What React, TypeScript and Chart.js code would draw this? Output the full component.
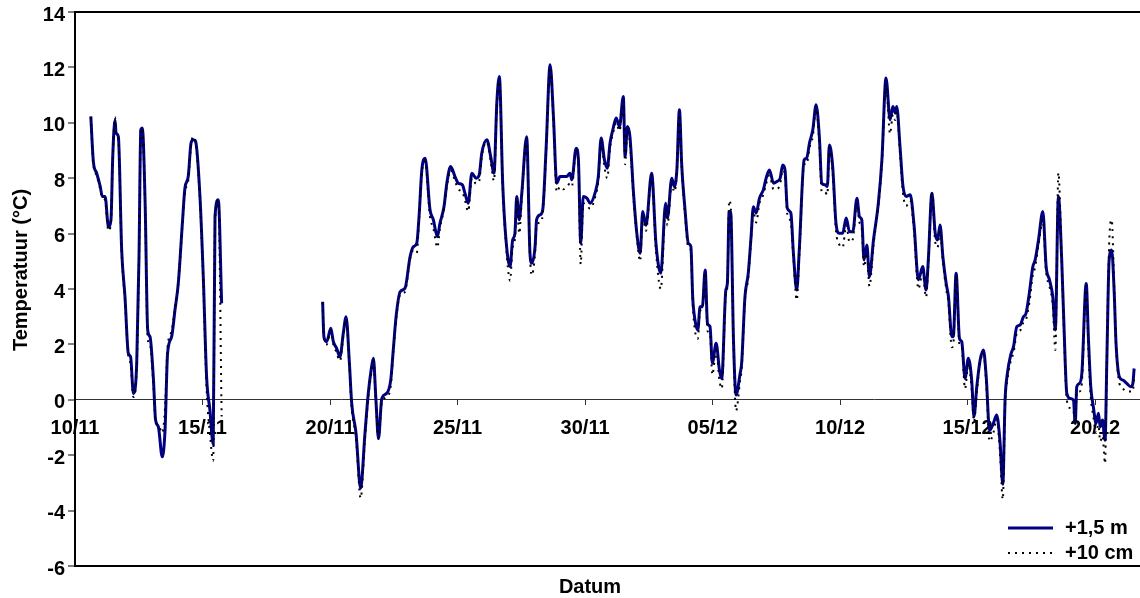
import React, { useEffect, useRef } from "react";
import { Chart, registerables } from "chart.js";

Chart.register(...registerables);

// Days since 10/11 (00:00); null values mark the data gap
const days = [
  0.62, 0.72, 0.85, 0.99, 1.07, 1.18, 1.31, 1.41, 1.48, 1.57, 1.61, 1.70, 1.83, 1.96, 2.09, 2.18, 2.29, 2.42, 2.51, 2.58,
  2.64, 2.75, 2.85, 2.94, 3.07, 3.16, 3.27, 3.42, 3.53, 3.63, 3.79, 3.92, 4.05, 4.21, 4.31, 4.44, 4.55, 4.64, 4.73, 4.90,
  5.03, 5.16, 5.29, 5.42, 5.49, 5.62, 5.75,
  7.5,
  9.71, 9.76, 9.87, 10.03, 10.13, 10.26, 10.39, 10.52, 10.63, 10.76, 10.85, 11.02, 11.2, 11.37, 11.5, 11.61, 11.7, 11.8, 11.9, 12.03,
  12.22, 12.38, 12.48, 12.59, 12.75, 12.94, 13.14, 13.27, 13.4, 13.49, 13.6, 13.73, 13.92, 14.05, 14.21, 14.31, 14.47, 14.58, 14.73, 14.9,
  15.03, 15.19, 15.29, 15.42, 15.56, 15.73, 15.85, 15.95, 16.15, 16.3, 16.43, 16.54, 16.64, 16.77, 16.9, 17.06, 17.16, 17.25, 17.32, 17.42,
  17.52, 17.71, 17.84, 17.91, 18.04, 18.1, 18.24, 18.34, 18.47, 18.63, 18.76, 18.89, 19.02, 19.15, 19.28, 19.41, 19.48, 19.65, 19.74, 19.83,
  19.93, 20.07, 20.2, 20.39, 20.52, 20.63, 20.76, 20.87, 20.98, 21.09, 21.22, 21.35, 21.5, 21.57, 21.66, 21.76, 21.9, 22.03, 22.16, 22.26,
  22.39, 22.61, 22.78, 22.97, 23.16, 23.23, 23.4, 23.5, 23.6, 23.7, 23.79, 23.92, 24.05, 24.15, 24.22, 24.31, 24.42, 24.51, 24.6, 24.71,
  24.8, 24.9, 24.99, 25.14, 25.27, 25.36, 25.52, 25.58, 25.65, 25.71, 25.82, 25.92, 26.08, 26.14, 26.27, 26.4, 26.51, 26.6, 26.71, 26.84,
  26.99, 27.1, 27.23, 27.39, 27.52, 27.65, 27.75, 27.84, 27.93, 28.07, 28.17, 28.3, 28.4, 28.59, 28.69, 28.8, 28.93, 29.06, 29.19, 29.28,
  29.41, 29.5, 29.58, 29.71, 29.84, 29.97, 30.1, 30.24, 30.37, 30.5, 30.66, 30.76, 30.85, 30.94, 31.05, 31.15, 31.31, 31.5, 31.64, 31.8,
  31.96, 32.07, 32.16, 32.22, 32.35, 32.46, 32.59, 32.75, 32.9, 33.07, 33.24, 33.37, 33.46, 33.6, 33.73, 33.82, 33.92, 34.03, 34.16, 34.25,
  34.38, 34.44, 34.55, 34.68, 34.77, 34.9, 35.03, 35.16, 35.25, 35.36, 35.49, 35.62, 35.73, 35.86, 36.01, 36.14, 36.27, 36.38, 36.47, 36.56,
  36.69, 36.8, 36.93, 37.06, 37.19, 37.29, 37.42, 37.56, 37.65, 37.78, 37.95, 38.08, 38.21, 38.34, 38.44, 38.56, 38.69, 38.78, 38.89, 39.02,
  39.15, 39.22, 39.28, 39.38, 39.48, 39.65, 39.74, 39.83, 39.93, 40.04, 40.13, 40.2, 40.29, 40.39, 40.46, 40.55, 40.65, 40.75, 40.82, 40.95,
  41.09, 41.24, 41.4, 41.48, 41.53,
];

// Temperature at +1,5 m (°C)
const temp150 = [
  10.23, 8.6, 8.18, 7.7, 7.34, 7.34, 6.25, 6.5, 8.78, 10.1, 9.63, 9.5, 5.41, 3.72, 1.68, 1.55, 0.23, 1.32, 5.17, 9.75,
  9.81, 7.1, 2.52, 2.28, 0.83, -0.73, -0.98, -2.06, -1.1, 1.68, 2.28, 3.24, 4.2, 6.37, 7.64, 8.06, 9.27, 9.39, 9.32, 7.34,
  4.45, 0.83, -0.37, -1.6, 6.61, 7.22, 3.48,
  null,
  3.54, 2.28, 2.1, 2.58, 2.1, 1.86, 1.55, 2.4, 3.0, 1.32, -0.13, -1.21, -3.2, -1.21, 0.23, 1.07, 1.5, -0.01, -1.4, 0.05,
  0.23, 0.71, 1.8, 3.0, 3.9, 4.03, 5.17, 5.53, 5.65, 6.61, 8.3, 8.72, 6.86, 6.5, 5.89, 6.37, 6.98, 7.82, 8.42, 8.06,
  7.82, 7.76, 7.46, 7.1, 8.18, 8.0, 8.12, 8.9, 9.39, 8.78, 8.18, 10.71, 11.67, 7.82, 5.77, 4.81, 5.77, 6.01, 7.34, 6.5,
  7.46, 9.5, 5.29, 4.93, 5.53, 6.5, 6.68, 6.86, 9.02, 12.1, 10.23, 7.82, 8.06, 8.06, 8.06, 8.18, 7.94, 9.08, 8.66, 5.65,
  7.34, 7.28, 7.1, 7.46, 8.06, 9.45, 8.66, 8.36, 9.27, 9.75, 10.17, 9.87, 10.95, 8.78, 9.87, 9.5, 7.46, 6.01, 5.29, 6.8,
  6.3, 8.18, 5.65, 4.57, 7.1, 6.56, 8.0, 7.7, 8.3, 10.47, 8.48, 6.86, 5.65, 5.53, 3.72, 2.88, 2.52, 3.36, 3.36, 4.69,
  2.76, 2.64, 1.32, 2.04, 1.07, 0.77, 3.96, 4.2, 6.8, 6.8, 2.16, 0.17, 0.95, 1.32, 3.72, 4.57, 5.89, 6.97, 6.74, 7.28,
  7.58, 8.0, 8.3, 7.82, 7.88, 8.0, 8.48, 8.3, 6.92, 6.74, 5.29, 3.96, 5.41, 8.66, 8.72, 9.27, 9.75, 10.65, 9.45, 7.82,
  7.76, 7.7, 9.2, 8.42, 6.37, 6.01, 6.01, 6.56, 6.07, 6.07, 7.28, 6.61, 6.5, 5.05, 5.59, 4.45, 5.77, 7.1, 8.66, 11.62,
  10.11, 10.59, 10.35, 10.59, 9.14, 7.76, 7.34, 7.4, 6.31, 4.33, 4.81, 3.96, 5.05, 7.46, 6.01, 5.77, 6.31, 5.17, 4.2, 3.72,
  2.28, 2.28, 4.57, 2.22, 2.1, 0.77, 1.5, 0.71, -0.61, 0.47, 1.43, 1.8, 0.83, -1.1, -0.85, -0.55, -1.5, -3.05, 0.0, 0.95,
  1.62, 1.92, 2.64, 2.7, 3.0, 3.12, 3.85, 4.81, 5.05, 5.77, 6.8, 4.81, 4.33, 3.72, 2.52, 7.34, 5.05, 2.64, 0.23, 0.05,
  -0.01, -0.85, 0.47, 0.59, 0.95, 4.2, 2.16, 0.47, -0.25, -0.85, -0.49, -0.98, -0.73, -1.46, 1.43, 5.05, 5.41, 3.85, 2.04, 0.83,
  0.71, 0.59, 0.47, 0.59, 1.13,
];

// Temperature at +10 cm (°C)
const temp10 = [
  10.2, 8.5, 8.1, 7.6, 7.3, 7.2, 6.1, 6.4, 8.7, 10.2, 9.6, 9.4, 5.3, 3.6, 1.6, 1.3, 0.1, 1.2, 5.1, 9.7,
  9.8, 7.0, 2.2, 2.0, 0.6, -0.8, -0.9, -1.2, -0.3, 1.9, 2.5, 3.3, 4.2, 6.3, 7.5, 7.9, 9.2, 9.5, 9.3, 7.2,
  4.3, 0.4, -1.2, -2.2, 6.4, 7.2, -0.6,
  null,
  3.5, 2.2, 2.0, 2.5, 2.0, 1.7, 1.4, 2.3, 2.9, 1.2, -0.3, -1.4, -3.55, -1.4, 0.1, 0.9, 1.4, -0.1, -1.4, -0.1,
  0.1, 0.5, 1.7, 2.9, 3.8, 3.9, 5.1, 5.4, 5.3, 6.5, 8.2, 8.6, 6.6, 6.2, 5.5, 6.2, 6.9, 7.7, 8.3, 7.9,
  7.6, 7.5, 7.2, 6.8, 8.0, 7.8, 7.9, 8.8, 9.3, 8.6, 7.9, 10.6, 11.5, 7.7, 5.6, 4.3, 5.5, 5.8, 7.2, 6.0,
  7.3, 9.4, 5.2, 4.5, 5.3, 6.3, 6.4, 6.7, 8.9, 12.0, 10.1, 7.5, 7.7, 7.6, 7.7, 7.8, 7.7, 9.0, 8.5, 4.9,
  7.1, 7.0, 6.9, 7.3, 7.9, 9.3, 8.4, 8.0, 9.1, 9.6, 10.0, 9.7, 10.8, 8.5, 9.7, 9.3, 7.3, 5.9, 5.0, 6.6,
  6.1, 8.1, 5.4, 4.0, 6.9, 6.3, 7.8, 7.5, 8.2, 10.3, 8.4, 6.7, 5.5, 5.4, 3.5, 2.5, 2.2, 3.2, 3.3, 4.6,
  2.5, 2.4, 0.9, 1.8, 0.7, 0.4, 3.8, 4.1, 7.2, 7.0, 2.0, -0.4, 0.7, 1.1, 3.6, 4.4, 5.8, 6.8, 6.4, 7.1,
  7.4, 7.8, 8.1, 7.6, 7.6, 7.8, 8.3, 8.1, 6.7, 6.4, 5.1, 3.6, 5.2, 8.5, 8.5, 9.1, 9.5, 10.5, 9.2, 7.5,
  7.5, 7.4, 9.1, 8.2, 6.1, 5.6, 5.5, 6.3, 5.7, 5.8, 7.1, 6.4, 6.2, 4.8, 5.3, 4.1, 5.6, 7.0, 8.5, 11.4,
  9.6, 10.3, 10.1, 10.4, 8.9, 7.5, 7.0, 7.2, 6.1, 4.0, 4.6, 3.7, 4.9, 7.5, 5.7, 5.5, 6.1, 5.0, 4.0, 3.5,
  1.9, 2.0, 4.5, 2.0, 1.9, 0.4, 1.3, 0.4, -0.8, 0.3, 1.3, 1.7, 0.6, -1.5, -1.2, -0.7, -1.9, -3.6, -0.2, 0.7,
  1.4, 1.7, 2.4, 2.5, 2.8, 2.9, 3.5, 4.5, 4.8, 5.6, 6.5, 4.6, 4.1, 3.4, 1.8, 8.2, 5.0, 2.4, 0.0, -0.3,
  -0.4, -0.9, 0.3, 0.3, 0.6, 4.1, 1.8, 0.1, -0.6, -1.2, -0.9, -1.5, -1.3, -2.3, 1.5, 5.6, 6.5, 4.0, 2.0, 0.6,
  0.4, 0.3, 0.3, 0.3, 0.9,
];

const seriesNames = ["+1,5 m", "+10 cm"];
const tickDays = [0, 5, 10, 15, 20, 25, 30, 35, 40];
const tickLabels = ["10/11", "15/11", "20/11", "25/11", "30/11", "05/12", "10/12", "15/12", "20/12"];
const yMin = -6;
const yMax = 14;
const yStep = 2;
const xMax = 41.76;
const xTitle = "Datum";
const yTitle = "Temperatuur (°C)";

const FONT_FAMILY = '"Liberation Sans", Arial, sans-serif';
const FONT_SIZE = 20;
const tickFont = { family: FONT_FAMILY, size: FONT_SIZE, weight: "bold" as const };

const overlayPlugin = {
  id: "overlay",
  afterDraw(chart: any) {
    const ctx = chart.ctx;
    const area = chart.chartArea;
    ctx.save();
    ctx.fillStyle = "#000";
    ctx.font = `bold ${FONT_SIZE}px ${FONT_FAMILY}`;
    ctx.textAlign = "center";
    ctx.textBaseline = "middle";
    // y title
    ctx.save();
    ctx.translate(21, (area.top + area.bottom) / 2 - 19);
    ctx.rotate(-Math.PI / 2);
    ctx.fillText(yTitle, 0, 0);
    ctx.restore();
    // x title
    ctx.fillText(xTitle, 590, area.bottom + 21);
    // legend
    const ds = chart.data.datasets;
    const order = [0, 1];
    order.forEach((i, row) => {
      const d = ds[i];
      const y = area.bottom - 38 + row * 25;
      ctx.save();
      ctx.strokeStyle = d.borderColor;
      ctx.lineWidth = d.borderWidth;
      ctx.setLineDash(d.borderDash || []);
      ctx.beginPath();
      ctx.moveTo(1008, y);
      ctx.lineTo(1053, y);
      ctx.stroke();
      ctx.restore();
      ctx.textAlign = "left";
      ctx.fillText(d.label, 1065, y);
    });
    ctx.restore();
  },
};

export default function App() {
  const ref = useRef<HTMLCanvasElement>(null);
  useEffect(() => {
    document.body.style.margin = "0";
    const mk = (vals: (number | null)[]) => days.map((d, i) => ({ x: d, y: vals[i] }));
    const chart = new Chart(ref.current as HTMLCanvasElement, {
      type: "line",
      data: {
        datasets: [
          {
            label: seriesNames[0],
            data: mk(temp150) as any,
            borderColor: "#000080",
            borderWidth: 3,
            pointRadius: 0,
            cubicInterpolationMode: "monotone",
            spanGaps: false,
            order: 2,
          },
          {
            label: seriesNames[1],
            data: mk(temp10) as any,
            borderColor: "#000000",
            borderWidth: 2,
            borderDash: [2, 5],
            pointRadius: 0,
            cubicInterpolationMode: "monotone",
            spanGaps: false,
            order: 1,
          },
        ],
      },
      options: {
        animation: false,
        responsive: false,
        devicePixelRatio: 1,
        layout: { padding: { top: 12, right: 0, bottom: 32, left: 0 } },
        plugins: {
          legend: { display: false },
          tooltip: { enabled: false },
        },
        scales: {
          x: {
            type: "linear",
            min: 0,
            max: xMax,
            position: { y: 0 } as any,
            afterBuildTicks: (s: any) => {
              s.ticks = tickDays.map((v) => ({ value: v }));
            },
            ticks: {
              callback: (_v: any, i: number) => tickLabels[i],
              font: tickFont,
              color: "#000",
              padding: 12,
              maxRotation: 0,
              autoSkip: false,
            },
            grid: {
              drawOnChartArea: false,
              drawTicks: true,
              tickLength: 5,
              tickColor: "#333",
              tickWidth: 1,
            },
            border: { display: true, color: "#333", width: 1 },
          },
          y: {
            type: "linear",
            min: yMin,
            max: yMax,
            position: "left",
            afterFit: (s: any) => {
              s.width = 75;
              s.paddingTop = 0;
              s.paddingBottom = 0;
            },
            ticks: {
              stepSize: yStep,
              font: tickFont,
              color: "#000",
              padding: 3,
              labelOffset: 3,
            },
            grid: {
              color: (c: any) =>
                c.tick && (c.tick.value === yMax || c.tick.value === yMin) ? "#000" : "rgba(0,0,0,0)",
              lineWidth: 2,
              drawTicks: true,
              tickLength: 7,
              tickColor: "#000",
              tickWidth: 1,
            },
            border: { display: true, color: "#000", width: 2 },
          },
        },
      },
      plugins: [overlayPlugin],
    });
    return () => chart.destroy();
  }, []);
  return (
    <div style={{ width: 1140, height: 598 }}>
      <canvas ref={ref} width={1140} height={598} style={{ display: "block" }} />
    </div>
  );
}
